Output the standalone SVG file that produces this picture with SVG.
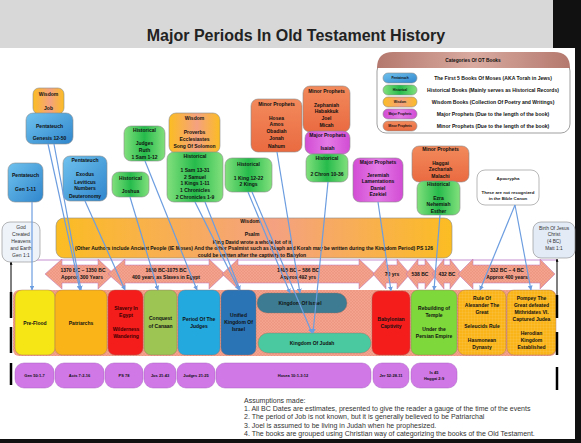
<svg xmlns="http://www.w3.org/2000/svg" width="581" height="443" viewBox="0 0 581 443">
<defs>
<style>
.t{font-family:"Liberation Sans",Arial,sans-serif;font-weight:bold;font-size:5px;fill:#111;text-anchor:middle}
.r{font-weight:normal;fill:#333}
.bx{stroke:#8c8c8c;stroke-width:0.6}
.pb{stroke:#9a6a60;stroke-width:0.4}
.ref{fill:#cf78e6;stroke:#a860c0;stroke-width:0.5}
.arw{fill:url(#hatch);stroke:#b870b8;stroke-width:0.5}
.conn{stroke:#6c9de0;stroke-width:1.2;fill:none;marker-end:url(#ah)}
.blk{stroke:#000;stroke-width:2.5}
</style>
<linearGradient id="gBlue" x1="0" y1="0" x2="1" y2="1"><stop offset="0" stop-color="#6fc2ee"/><stop offset="1" stop-color="#2f86cc"/></linearGradient>
<linearGradient id="gGreen" x1="0" y1="0" x2="1" y2="0"><stop offset="0" stop-color="#82e07c"/><stop offset="0.5" stop-color="#26bb4c"/><stop offset="1" stop-color="#82e07c"/></linearGradient>
<linearGradient id="gWis" x1="0" y1="0" x2="1" y2="0"><stop offset="0" stop-color="#fbbd22"/><stop offset="0.55" stop-color="#f4a181"/><stop offset="1" stop-color="#fbbd22"/></linearGradient>
<linearGradient id="gMinor" x1="0" y1="0" x2="0" y2="1"><stop offset="0" stop-color="#f28a5c"/><stop offset="1" stop-color="#ea6a40"/></linearGradient>
<linearGradient id="gMajor" x1="0" y1="0" x2="1" y2="0"><stop offset="0" stop-color="#d24cd4"/><stop offset="0.5" stop-color="#e47ae6"/><stop offset="1" stop-color="#d24cd4"/></linearGradient>
<linearGradient id="gHead" x1="0" y1="0" x2="1" y2="0"><stop offset="0" stop-color="#b4786e"/><stop offset="0.5" stop-color="#d9aaa0"/><stop offset="1" stop-color="#b4786e"/></linearGradient>
<pattern id="hatch" width="3" height="3" patternUnits="userSpaceOnUse"><rect width="3" height="3" fill="#f4a48e"/><path d="M0 0L3 3M3 0L0 3" stroke="#e88c76" stroke-width="0.4"/></pattern>
<pattern id="grid" width="3" height="3" patternUnits="userSpaceOnUse"><rect width="3" height="3" fill="#fbb418"/><path d="M0 0H3M0 0V3" stroke="#f7d070" stroke-width="0.4"/></pattern>
<marker id="ah" viewBox="0 0 10 10" refX="9" refY="5" markerWidth="4" markerHeight="4" orient="auto"><path d="M0 0L10 5L0 10z" fill="#6c9de0"/></marker>
<marker id="bk" viewBox="0 0 10 10" refX="9" refY="5" markerWidth="3" markerHeight="3" orient="auto"><path d="M0 0L10 5L0 10z" fill="#000"/></marker>
</defs>
<rect width="581" height="443" fill="#fff"/>
<rect x="0" y="0" width="553" height="48" fill="#d8d8d8"/>
<rect x="553" y="0" width="28" height="48" fill="#111"/>
<rect x="575" y="0" width="6" height="443" fill="#111"/>
<rect x="0" y="439" width="581" height="4" fill="#111"/>

<text x="296" y="41" class="t" style="font-size:16px;fill:#222">Major Periods In Old Testament History</text>

<g id="legend">
<rect x="377" y="62" width="193" height="71" rx="9" fill="#fff" stroke="#777" stroke-width="0.7"/>
<path d="M377 68Q377 52 393 52H554Q570 52 570 68Z" fill="url(#gHead)"/>
<text x="473" y="62" class="t" style="font-size:4.8px">Categories Of OT Books</text>
<rect x="383" y="73" width="34" height="10" rx="5" fill="url(#gBlue)" class="bx"/>
<rect x="383" y="85" width="34" height="10" rx="5" fill="url(#gGreen)" class="bx"/>
<rect x="383" y="97" width="34" height="10" rx="5" fill="url(#gWis)" class="bx"/>
<rect x="383" y="109" width="34" height="10" rx="5" fill="url(#gMajor)" class="bx"/>
<rect x="383" y="121" width="34" height="10" rx="5" fill="url(#gMinor)" class="bx"/>
<g class="t" style="font-size:3.2px">
<text x="400" y="79.3">Pentateuch</text><text x="400" y="91.3">Historical</text><text x="400" y="103.3">Wisdom</text><text x="400" y="115.3">Major Prophets</text><text x="400" y="127.3">Minor Prophets</text>
</g>
<g class="t" style="font-size:5.1px">
<text x="493" y="80">The First 5 Books Of Moses (AKA Torah in Jews)</text>
<text x="493" y="92">Historical Books (Mainly serves as Historical Records)</text>
<text x="493" y="104">Wisdom Books (Collection Of Poetry and Writings)</text>
<text x="493" y="116">Major Prophets (Due to the length of the book)</text>
<text x="493" y="128">Minor Prophets (Due to the length of the book)</text>
</g>
</g>

<g id="wisdom-bar">
<rect x="56" y="218" width="396" height="40" rx="8" fill="url(#gWis)" class="bx"/>
<text x="250" y="223" class="t">Wisdom</text>
<text x="252" y="236" class="t">Psalm</text>
<text x="252" y="243.5" class="t">King David wrote a whole lot of it</text>
<text x="254" y="250" class="t">(Other Authors include Ancient People (IE Moses)  And the other Psalmist such as Asaph and Korah may be written during the Kingdom Period) PS 126</text>
<text x="252" y="257" class="t">could be written after the captivity to Babylon</text>
</g>

<g id="dates">
<line x1="35" y1="260" x2="556" y2="260" stroke="#b060c0" stroke-width="0.7"/>
<path class="arw" d="M45 274L62 259V265H98V259L114 274L98 289V283H62V289Z"/>
<path class="arw" d="M108 274L125 259V265H209V259L225 274L209 289V283H125V289Z"/>
<path class="arw" d="M222 274L238 259V265H359V259L375 274L359 289V283H238V289Z"/>
<path class="arw" d="M373 274L386 259V265H397V259L410 274L397 289V283H386V289Z"/>
<path class="arw" d="M406 274L418 259V265H425V259L437 274L425 289V283H418V289Z"/>
<path class="arw" d="M432 274L444 259V265H450V259L462 274L450 289V283H444V289Z"/>
<path class="arw" d="M458 274L473 259V265H540V259L555 274L540 289V283H473V289Z"/>
<g class="t">
<text x="83" y="272.3">1370 BC – 1350 BC</text><text x="82" y="278.5">Approx 300 Years</text>
<text x="166" y="272.3">1650 BC-1075 BC</text><text x="166" y="278.5">400 years as Slaves in Egypt</text>
<text x="298" y="272.3">1405 BC – 586 BC</text><text x="298" y="278.5">Approx 492 yrs</text>
<text x="392" y="275.5">70 yrs</text>
<text x="420" y="275.5">538 BC</text>
<text x="447" y="275.5">432 BC</text>
<text x="507" y="272.3">332 BC – 4 BC</text><text x="507" y="278.5">Approx 400 years</text>
</g>
</g>

<g id="periods">
<rect x="13" y="290" width="543" height="66" rx="6" fill="url(#hatch)"/>
<g id="p-preflood"><rect x="15" y="290" width="40" height="65" rx="7" fill="#f7e616" class="pb"/><text x="35" y="324.5" class="t">Pre-Flood</text></g>
<g id="p-patriarchs"><rect x="55" y="290" width="52" height="65" rx="7" fill="#fbb418" class="pb"/><text x="81" y="324.5" class="t">Patriarchs</text></g>
<g id="p-slavery"><rect x="108" y="290" width="35" height="65" rx="7" fill="#f51c1c" class="pb"/><g class="t" style="fill:#3a0000"><text x="126" y="309.5">Slavery In</text><text x="126" y="316.5">Egypt</text><text x="126" y="330.5">Wilderness</text><text x="126" y="337.5">Wandering</text></g></g>
<g id="p-conquest"><rect x="144" y="290" width="33" height="65" rx="7" fill="#9cc554" class="pb"/><text x="160.5" y="319.5" class="t">Conquest</text><text x="160.5" y="327.5" class="t">of Canaan</text></g>
<g id="p-judges"><rect x="178" y="290" width="42" height="65" rx="7" fill="#24a9de" class="pb"/><text x="199" y="320.5" class="t">Period Of The</text><text x="199" y="327.5" class="t">Judges</text></g>
<g id="p-unified"><rect x="221" y="290" width="35" height="65" rx="7" fill="#2a74b6" class="pb"/><text x="238.5" y="316.5" class="t">Unified</text><text x="238.5" y="323.5" class="t">Kingdom Of</text><text x="238.5" y="330.5" class="t">Israel</text></g>
<g id="p-israel"><rect x="257" y="293" width="90" height="20" rx="10" fill="#3c7b92" class="pb"/><text x="300" y="304.5" class="t">Kingdom Of Israel</text></g>
<g id="p-judah"><rect x="258" y="333" width="113" height="20" rx="10" fill="#4ac8a0" class="pb"/><text x="312" y="344.5" class="t">Kingdom Of Judah</text></g>
<g id="p-babylon"><rect x="372" y="291" width="38" height="64" rx="7" fill="#f51c1c" class="pb"/><text x="391" y="320.5" class="t">Babylonian</text><text x="391" y="327.5" class="t">Captivity</text></g>
<g id="p-rebuild"><rect x="411" y="290" width="46" height="65" rx="7" fill="#7ed83c" class="pb"/><text x="434" y="309.5" class="t">Rebuilding of</text><text x="434" y="316.5" class="t">Temple</text><text x="434" y="330.5" class="t">Under the</text><text x="434" y="337.5" class="t">Persian Empire</text></g>
<g id="p-alexander"><rect x="458" y="290" width="48" height="65" rx="7" fill="url(#grid)" class="pb"/><text x="482" y="299.5" class="t">Rule Of</text><text x="482" y="306.5" class="t">Alexander The</text><text x="482" y="313.5" class="t">Great</text><text x="482" y="327.5" class="t">Seleucids Rule</text><text x="482" y="341.5" class="t">Hasmonean</text><text x="482" y="348.5" class="t">Dynasty</text></g>
<g id="p-pompey"><rect x="507" y="290" width="49" height="65" rx="7" fill="url(#grid)" class="pb"/><text x="531.5" y="299.5" class="t">Pompey The</text><text x="531.5" y="306.5" class="t">Great defeated</text><text x="531.5" y="313.5" class="t">Mithridates VI.</text><text x="531.5" y="320.5" class="t">Captured Judea</text><text x="531.5" y="334.5" class="t">Herodian</text><text x="531.5" y="341.5" class="t">Kingdom</text><text x="531.5" y="348.5" class="t">Established</text></g>
</g>

<g id="refs" class="t" style="font-size:4px">
<rect x="15" y="363" width="39" height="25" rx="9" class="ref"/><text x="34.5" y="377">Gen 50:1-7</text>
<rect x="55" y="363" width="49" height="25" rx="9" class="ref"/><text x="79.5" y="377">Acts 7:2-16</text>
<rect x="105" y="363" width="38" height="25" rx="9" class="ref"/><text x="124" y="377">PS 78</text>
<rect x="144" y="363" width="32" height="25" rx="9" class="ref"/><text x="160" y="377">Jos 21:43</text>
<rect x="177" y="363" width="38" height="25" rx="9" class="ref"/><text x="196" y="377">Judges 21:25</text>
<rect x="216" y="363" width="155" height="25" rx="9" class="ref"/><text x="293" y="377">Hosea 10:1-3:12</text>
<rect x="373" y="363" width="36" height="25" rx="9" class="ref"/><text x="391" y="377">Jer 52:28-11</text>
<rect x="411" y="363" width="46" height="25" rx="9" class="ref"/><text x="434" y="374">Is 45</text><text x="434" y="380">Haggai 2:9</text>
</g>

<g id="boundaries">
<line x1="11" y1="300" x2="11" y2="262" stroke="#000" stroke-width="1" marker-end="url(#bk)"/>
<line x1="11" y1="292" x2="11" y2="318" class="blk"/>
<line x1="11" y1="327" x2="11" y2="353" class="blk"/>
<line x1="11" y1="363" x2="11" y2="385" class="blk"/>
<line x1="557" y1="300" x2="557" y2="259" stroke="#000" stroke-width="1" marker-end="url(#bk)"/>
<line x1="557" y1="295" x2="557" y2="318" class="blk"/>
<line x1="557" y1="332" x2="557" y2="355" class="blk"/>
<line x1="557" y1="367" x2="557" y2="390" class="blk"/>
</g>

<g id="n-god"><rect x="2" y="222" width="38" height="40" rx="8" fill="#eef3fa" stroke="#888" stroke-width="0.6"/><g class="t r" style="font-size:5px"><text x="21" y="229">God</text><text x="21" y="236">Created</text><text x="21" y="243">Heavens</text><text x="21" y="250">and Earth</text><text x="21" y="257">Gen 1:1</text></g></g>
<g id="n-job"><rect x="33" y="88" width="31" height="26" rx="6" fill="url(#gWis)" class="bx"/><text x="48.5" y="96" class="t">Wisdom</text><text x="48.5" y="109.5" class="t">Job</text></g>
<g id="n-gen12"><rect x="26" y="113" width="47" height="31" rx="7" fill="url(#gBlue)" class="bx"/><text x="49.5" y="127.5" class="t">Pentateuch</text><text x="49.5" y="140" class="t">Genesis 12-50</text></g>
<g id="n-gen1"><rect x="8" y="163" width="35" height="39" rx="7" fill="url(#gBlue)" class="bx"/><text x="25.5" y="177" class="t">Pentateuch</text><text x="25.5" y="191" class="t">Gen 1-11</text></g>
<g id="n-exodus"><rect x="63" y="156" width="44" height="45" rx="7" fill="url(#gBlue)" class="bx"/><text x="85" y="162" class="t">Pentateuch</text><text x="85" y="176" class="t">Exodus</text><text x="85" y="183.5" class="t">Leviticus</text><text x="85" y="190" class="t">Numbers</text><text x="85" y="197.5" class="t">Deuteronomy</text></g>
<g id="n-joshua"><rect x="112" y="172" width="37" height="25" rx="7" fill="url(#gGreen)" class="bx"/><text x="130.5" y="179.5" class="t">Historical</text><text x="130.5" y="193" class="t">Joshua</text></g>
<g id="n-judges"><rect x="124" y="126" width="41" height="35" rx="7" fill="url(#gGreen)" class="bx"/><text x="144.5" y="132" class="t">Historical</text><text x="144.5" y="145" class="t">Judges</text><text x="144.5" y="151.8" class="t">Ruth</text><text x="144.5" y="159" class="t">1 Sam 1-12</text></g>
<g id="n-proverbs"><rect x="169" y="113" width="51" height="40" rx="7" fill="url(#gWis)" class="bx"/><text x="194.5" y="120" class="t">Wisdom</text><text x="194.5" y="134" class="t">Proverbs</text><text x="194.5" y="140.8" class="t">Ecclesiastes</text><text x="194.5" y="147.5" class="t">Song Of Solomon</text></g>
<g id="n-hist1sam"><rect x="167" y="152" width="56" height="50" rx="7" fill="url(#gGreen)" class="bx"/><text x="195" y="157.8" class="t">Historical</text><text x="195" y="171.8" class="t">1 Sam 13-31</text><text x="195" y="178.5" class="t">2 Samuel</text><text x="195" y="185" class="t">1 Kings 1-11</text><text x="195" y="191.8" class="t">1 Chronicles</text><text x="195" y="199" class="t">2 Chronicles 1-9</text></g>
<g id="n-hist1king"><rect x="225" y="158" width="47" height="34" rx="7" fill="url(#gGreen)" class="bx"/><text x="248.5" y="166" class="t">Historical</text><text x="248.5" y="180" class="t">1 King 12-22</text><text x="248.5" y="186" class="t">2 Kings</text></g>
<g id="n-hosea"><rect x="251" y="99" width="51" height="53" rx="7" fill="url(#gMinor)" class="bx"/><text x="276.5" y="105.8" class="t">Minor Prophets</text><text x="276.5" y="119.5" class="t">Hosea</text><text x="276.5" y="126" class="t">Amos</text><text x="276.5" y="132.8" class="t">Obadiah</text><text x="276.5" y="140" class="t">Jonah</text><text x="276.5" y="147.5" class="t">Nahum</text></g>
<g id="n-zeph"><rect x="303" y="86" width="47" height="46" rx="7" fill="url(#gMinor)" class="bx"/><text x="326.5" y="93" class="t">Minor Prophets</text><text x="326.5" y="106.8" class="t">Zephaniah</text><text x="326.5" y="112.8" class="t">Habakkuk</text><text x="326.5" y="120" class="t">Joel</text><text x="326.5" y="126.8" class="t">Micah</text></g>
<g id="n-isaiah"><rect x="305" y="131" width="45" height="23" rx="7" fill="url(#gMajor)" class="bx"/><text x="327.5" y="136.8" class="t">Major Prophets</text><text x="327.5" y="150" class="t">Isaiah</text></g>
<g id="n-chron2"><rect x="306" y="154" width="42" height="28" rx="7" fill="url(#gGreen)" class="bx"/><text x="327" y="160" class="t">Historical</text><text x="327" y="175.5" class="t">2 Chron 10-36</text></g>
<g id="n-jer"><rect x="353" y="158" width="50" height="44" rx="7" fill="url(#gMajor)" class="bx"/><text x="378" y="163.5" class="t">Major Prophets</text><text x="378" y="176.8" class="t">Jeremiah</text><text x="378" y="182.8" class="t">Lamentations</text><text x="378" y="189.5" class="t">Daniel</text><text x="378" y="196" class="t">Ezekiel</text></g>
<g id="n-haggai"><rect x="412" y="146" width="57" height="36" rx="7" fill="url(#gMinor)" class="bx"/><text x="440.5" y="151" class="t">Minor Prophets</text><text x="440.5" y="164.5" class="t">Haggai</text><text x="440.5" y="171" class="t">Zechariah</text><text x="440.5" y="177.8" class="t">Malachi</text></g>
<g id="n-ezra"><rect x="417" y="181" width="43" height="34" rx="7" fill="url(#gGreen)" class="bx"/><text x="438.5" y="186" class="t">Historical</text><text x="438.5" y="200" class="t">Ezra</text><text x="438.5" y="206" class="t">Nehemiah</text><text x="438.5" y="212.8" class="t">Esther</text></g>
<g id="n-apoc"><rect x="477" y="170" width="62" height="35" rx="8" fill="#fff" stroke="#888" stroke-width="0.6"/><g class="t" style="font-size:4.4px;fill:#222"><text x="508" y="179.8">Apocrypha</text><text x="508" y="193.5">These are not recognized</text><text x="508" y="200">in the Bible Canon</text></g></g>
<g id="n-birth"><rect x="533" y="222" width="42" height="36" rx="8" fill="#e3ebf6" stroke="#888" stroke-width="0.6"/><g class="t r" style="font-size:4.8px"><text x="554" y="229.5">Birth Of Jesus</text><text x="554" y="236">Christ</text><text x="554" y="242.8">(4 BC)</text><text x="554" y="250">Matt 1:1</text></g></g>

<g id="connectors">
<line class="conn" x1="48" y1="144" x2="80" y2="290"/>
<line class="conn" x1="54" y1="144" x2="81" y2="290"/>
<line class="conn" x1="32" y1="202" x2="32" y2="290"/>
<line class="conn" x1="85" y1="201" x2="125" y2="290"/>
<line class="conn" x1="130" y1="197" x2="158" y2="290"/>
<line class="conn" x1="145" y1="161" x2="197" y2="290"/>
<line class="conn" x1="195" y1="202" x2="239" y2="290"/>
<line class="conn" x1="205" y1="202" x2="240" y2="290"/>
<line class="conn" x1="248" y1="192" x2="290" y2="293"/>
<line class="conn" x1="277" y1="152" x2="300" y2="293"/>
<line class="conn" x1="252" y1="192" x2="312" y2="333"/>
<line class="conn" x1="328" y1="182" x2="313" y2="333"/>
<line class="conn" x1="378" y1="202" x2="391" y2="291"/>
<line class="conn" x1="440" y1="215" x2="434" y2="290"/>
<line class="conn" x1="515" y1="205" x2="480" y2="290"/>
<line class="conn" x1="515" y1="205" x2="531" y2="290"/>
</g>

<g id="notes" class="t r" style="text-anchor:start;font-size:7px;fill:#333">
<text x="244" y="402.5">Assumptions made:</text>
<text x="244" y="410.5">1. All BC Dates are estimates, presented to give the reader a gauge of the time of the events</text>
<text x="244" y="419">2. The period of Job is not known, but it is generally believed to be Patriarchal</text>
<text x="244" y="427.5">3. Joel is assumed to be living in Judah when he prophesized.</text>
<text x="244" y="436">4. The books are grouped using Christian way of categorizing the books of the Old Testament.</text>
</g>
</svg>
